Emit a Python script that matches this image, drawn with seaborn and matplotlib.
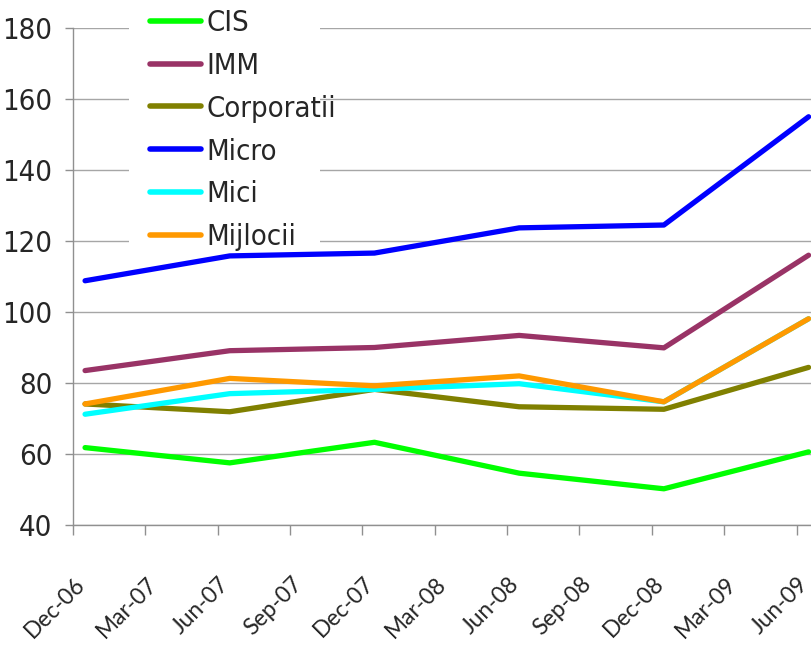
import matplotlib
matplotlib.use("Agg")
import matplotlib.pyplot as plt
import matplotlib.patches as mpatches
import seaborn as sns
import pandas as pd
import numpy as np

# ---- data ----
dates = ["2006-12", "2007-06", "2007-12", "2008-06", "2008-12", "2009-06"]
cis        = [61.8, 57.5, 63.3, 54.6, 50.2, 60.6]
imm        = [83.5, 89.1, 90.0, 93.4, 89.9, 116.0]
corporatii = [74.1, 71.9, 78.2, 73.3, 72.6, 84.4]
micro      = [108.8, 115.8, 116.6, 123.7, 124.5, 155.0]
mici       = [71.2, 77.0, 78.2, 79.8, 74.7, 98.1]
mijlocii   = [74.1, 81.3, 79.2, 82.0, 74.7, 98.1]
series_names = ["CIS", "IMM", "Corporatii", "Micro", "Mici", "Mijlocii"]
series_vals = [cis, imm, corporatii, micro, mici, mijlocii]
colors = ["#00ff00", "#993366", "#808000", "#0000ff", "#00ffff", "#ff9900"]
tick_labels = ["Dec-06", "Mar-07", "Jun-07", "Sep-07", "Dec-07", "Mar-08",
               "Jun-08", "Sep-08", "Dec-08", "Mar-09", "Jun-09"]

# month offsets from Dec-06 (points centred in month, like Excel date axis)
per = pd.PeriodIndex(dates, freq="M")
base = pd.Period("2006-12", freq="M")
xpos = np.array([(p - base).n for p in per]) + 0.5

rows = []
for name, vals in zip(series_names, series_vals):
    for x, v in zip(xpos, vals):
        rows.append({"x": x, "value": v, "series": name})
df = pd.DataFrame(rows)

sns.set_theme(style="white")
plt.rcParams["font.family"] = ["DejaVu Sans"]
plt.rcParams["font.stretch"] = "condensed"

fig = plt.figure(figsize=(8.11, 6.5), dpi=100)
ax = fig.add_axes([73 / 811, 1 - 525 / 650, 1 - 73 / 811, (525 - 28) / 650])

sns.lineplot(data=df, x="x", y="value", hue="series", hue_order=series_names,
             palette=dict(zip(series_names, colors)), linewidth=3.8,
             ax=ax, legend=True, zorder=3)

ax.set_xlim(0, 30.6)
ax.set_ylim(40, 180)
ax.set_yticks(np.arange(40, 181, 20))
tick_pos = np.arange(0, 31, 3)
# major ticks: marks only; minor ticks (slightly offset): labels only
ax.set_xticks(tick_pos)
ax.set_xticklabels([""] * len(tick_pos))
ax.set_xticks(tick_pos + 0.35, minor=True)
ax.set_xticklabels(tick_labels, minor=True, rotation=45, ha="right",
                   va="center", rotation_mode="anchor", fontsize=16.5,
                   family=["Lato", "DejaVu Sans"], stretch="normal")
ax.set_xlabel("")
ax.set_ylabel("")
ax.grid(axis="y", which="major", color="#a6a6a6", linewidth=1.0, zorder=0)
ax.grid(axis="x", visible=False)
for s in ["top", "right"]:
    ax.spines[s].set_visible(False)
for s in ["left", "bottom"]:
    ax.spines[s].set_color("#909090")
    ax.spines[s].set_linewidth(1.0)
ax.tick_params(axis="y", which="both", left=True, length=6, width=1,
               color="#909090", labelsize=21, pad=9)
ax.tick_params(axis="x", which="major", bottom=True, length=7, width=1,
               color="#909090")
ax.tick_params(axis="x", which="minor", bottom=True, length=0, pad=40)

# white legend area hiding the gridlines (as in the reference)
ax.add_patch(mpatches.Rectangle((129 / 811, 1 - 255 / 650), (320 - 129) / 811,
                                255 / 650, transform=fig.transFigure,
                                facecolor="white", edgecolor="none",
                                zorder=2.5))

handles, labels = ax.get_legend_handles_labels()
leg = ax.legend(handles, labels, loc="upper left",
                bbox_to_anchor=(147 / 811, 1 - 6 / 650),
                bbox_transform=fig.transFigure, fontsize=21,
                frameon=False, borderaxespad=0,
                borderpad=0.1, handlelength=1.75, handletextpad=0.2,
                labelspacing=0.51)
leg.set_zorder(5)
for h in leg.get_lines():
    h.set_linewidth(4)

fig.savefig("out.png", dpi=100)
